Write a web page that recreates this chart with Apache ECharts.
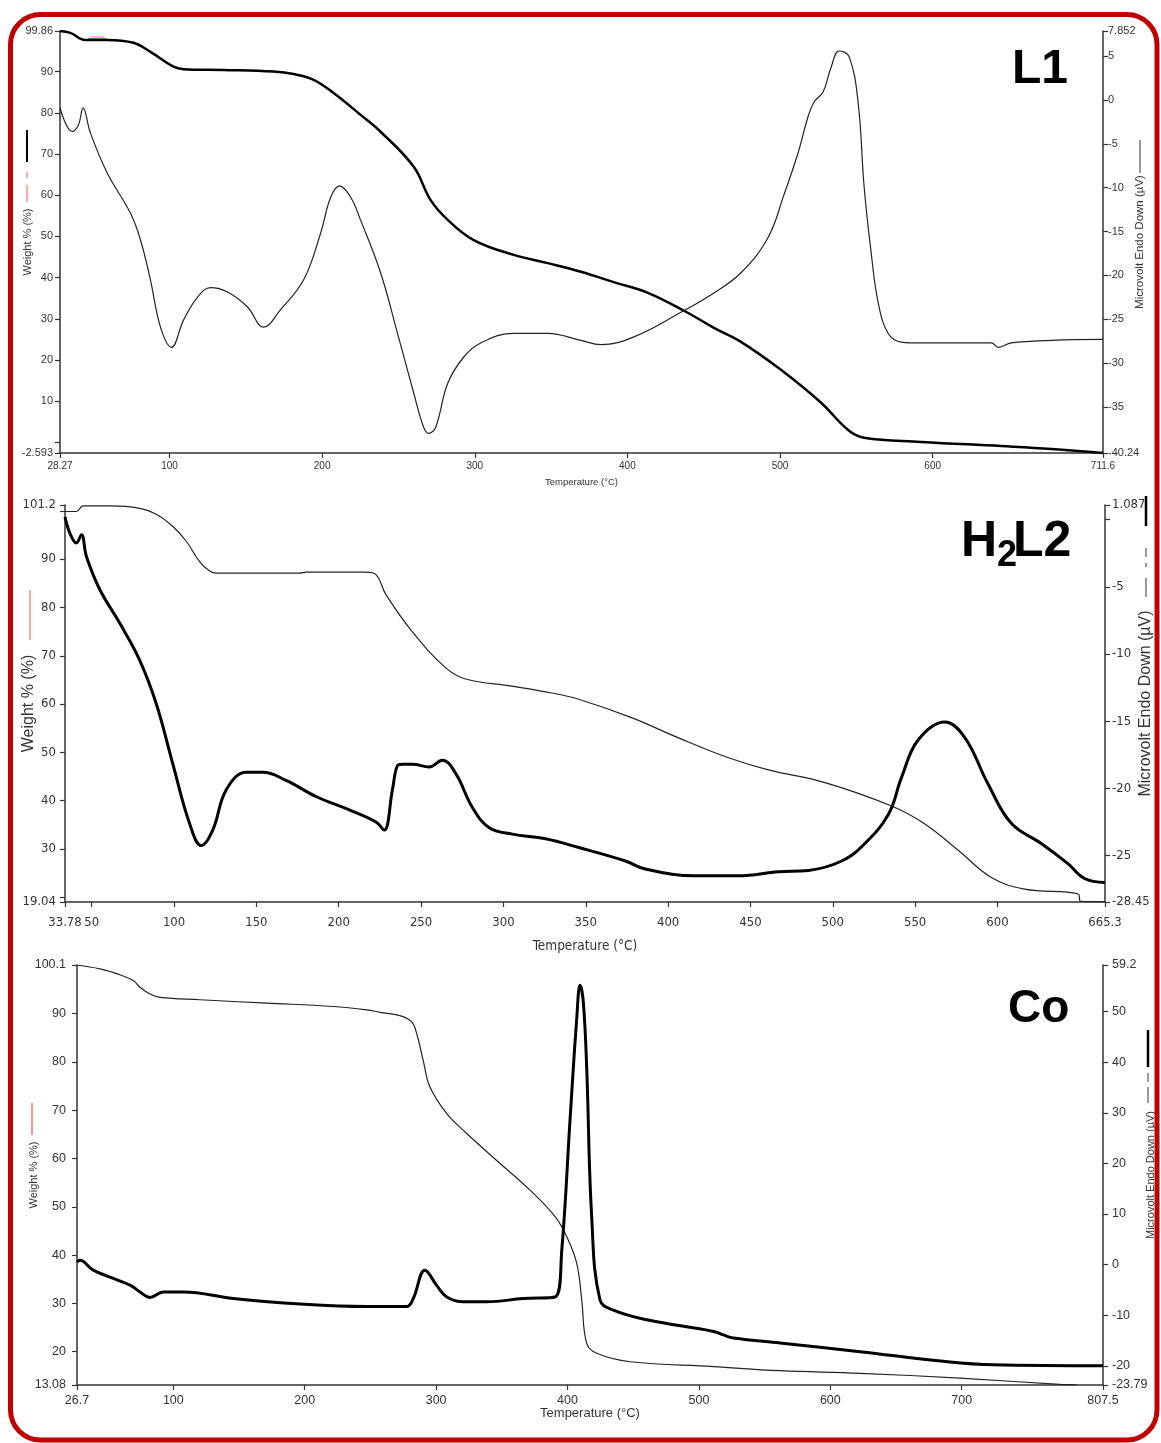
<!DOCTYPE html>
<html>
<head>
<meta charset="utf-8">
<title>TGA / DTA curves</title>
<script src="https://cdn.jsdelivr.net/npm/echarts@6/dist/echarts.min.js"></script>
<style>
html, body { margin: 0; padding: 0; background: #fff; }
#chart { width: 1161px; height: 1443px; }
</style>
</head>
<body>
<div id="chart"></div>
<script>
// L1 : thick = weight %, thin = microvolt
var l1TgaTemp = [28.27, 35.1, 44.9, 59.2, 76.4, 87.5, 102.6, 109.2, 135.4, 168.2, 181.3, 194.4, 207.5, 225.2, 238.3, 260, 271.1, 282.3, 299.3, 325.5, 347.8, 369.5, 391.1, 413.4, 438.3, 456.7, 474.4, 500.6, 526.9, 544.6, 555.1, 592.5, 645, 677.8, 711.6];
var l1TgaWeight = [99.86, 99.4, 97.7, 97.7, 97.0, 94.8, 91.2, 90.6, 90.4, 90.0, 89.4, 88.0, 84.8, 79.5, 75.4, 66.9, 58.8, 54.0, 49.1, 45.5, 43.5, 41.4, 38.9, 36.3, 31.7, 27.8, 24.4, 17.6, 9.6, 3.0, 1.1, 0.1, -0.9, -1.6, -2.59];
var l1DtaTemp = [28.27, 36.2, 40.3, 43.4, 48.2, 59.2, 74.4, 81, 87.5, 94.1, 101.3, 109.2, 118.3, 126.9, 138, 151.1, 161.6, 172.8, 187.9, 199, 205.6, 211.5, 218.7, 225.2, 238.3, 249.4, 260, 266.5, 269.8, 274.4, 282.3, 292.8, 303.9, 325.5, 347.8, 369.5, 382.6, 404.3, 435.1, 456.7, 474.4, 492.1, 502.6, 511.8, 518.3, 522.3, 528.2, 533.5, 538.7, 545.3, 551.2, 555.1, 559.7, 564.3, 570.8, 579.3, 592.5, 638.4, 643, 651.5, 677.8, 711.6];
var l1DtaUv = [-0.92, -3.6, -2.86, -0.92, -3.77, -8.33, -12.9, -15.97, -20.5, -25.9, -28.2, -25.1, -22.5, -21.4, -21.9, -23.6, -25.9, -23.9, -20.5, -15.2, -11.1, -9.8, -11.1, -13.7, -19.7, -26.6, -33.4, -37.3, -38.0, -37.3, -32.3, -29.3, -27.7, -26.6, -26.6, -27.4, -27.9, -27.0, -24.2, -22.0, -19.7, -15.7, -10.8, -6.05, -1.95, -0.24, 0.9, 3.75, 5.57, 4.9, -0.35, -9.9, -17.4, -23.1, -26.6, -27.6, -27.7, -27.7, -28.2, -27.7, -27.4, -27.3];

// H2L2 : thin = weight %, thick = microvolt
var h2TgaTemp = [33.78, 40.7, 44.75, 60.9, 79.2, 89.2, 99.3, 107.4, 115.5, 121.4, 125.6, 176.1, 180.1, 216.5, 222.6, 228.6, 244.6, 265, 277.1, 305.2, 329.3, 345.7, 377.8, 406.4, 436.7, 460.9, 495.3, 535.7, 555.9, 576.5, 596.3, 616.5, 649, 650.5, 665.3];
var h2TgaWeight = [99.85, 99.85, 101.0, 101.0, 100.5, 99.3, 96.75, 93.7, 89.5, 87.6, 87.1, 87.1, 87.3, 87.3, 86.8, 82.7, 75.0, 67.5, 65.2, 63.7, 62.3, 61.0, 57.2, 53.0, 48.9, 46.4, 43.75, 38.9, 35.2, 29.65, 24.1, 21.7, 20.7, 19.2, 19.1];
var h2DtaTemp = [33.78, 36.7, 40.7, 43.8, 46.8, 54.9, 67.0, 79.1, 89.2, 99.3, 109.4, 116.5, 123.5, 131.7, 143.8, 153.8, 168, 186.2, 206.4, 222.6, 227.6, 232.6, 235.7, 238.7, 244.8, 254.9, 262.9, 271.1, 281.1, 291.2, 305.4, 325.6, 345.8, 374.1, 386.2, 416.5, 442.8, 467, 485.2, 505.4, 519.5, 533.9, 541.7, 551.8, 568, 580.1, 594.2, 608.4, 626.6, 642.8, 652.9, 665.3];
var h2DtaUv = [0.2, -1.0, -1.74, -1.12, -2.74, -5.2, -7.7, -10.45, -13.7, -18.2, -22.6, -24.25, -23.1, -20.1, -18.8, -18.8, -19.4, -20.6, -21.6, -22.5, -23.1, -20.1, -18.3, -18.2, -18.2, -18.4, -17.9, -18.9, -21.4, -22.9, -23.4, -23.75, -24.4, -25.4, -26.0, -26.5, -26.5, -26.2, -26.1, -25.4, -24.1, -21.9, -19.2, -16.4, -15.05, -16.2, -19.65, -22.6, -24.1, -25.6, -26.7, -27.0];

// Co : thin = weight %, thick = microvolt
var coTgaTemp = [26.7, 44.2, 56.9, 69.5, 74.6, 82.3, 89.9, 120.3, 171.1, 221.8, 247.2, 257.3, 272.5, 281.4, 285.2, 290.2, 295.3, 308.1, 323.3, 346.1, 371.7, 390.7, 399.4, 407, 410.8, 414.6, 422.2, 447.6, 511, 561.7, 622.6, 698.7, 774.8, 787.5];
var coTgaWeight = [100.1, 99.3, 98.3, 96.9, 95.5, 94.1, 93.4, 92.9, 92.2, 91.5, 90.8, 90.3, 89.6, 88.3, 85.9, 80.3, 74.8, 69.3, 65.2, 59.6, 53.4, 47.9, 43.8, 38.3, 30.7, 21.7, 19.65, 17.9, 16.9, 16.05, 15.5, 14.5, 13.2, 13.1];
var coDtaTemp = [26.7, 29, 39.1, 67, 74.6, 82.3, 92.4, 107.6, 145.7, 196.4, 247.2, 277.6, 282.6, 291.5, 300.4, 308.1, 320.7, 338.5, 366.4, 390.5, 395.6, 402, 407, 409.5, 412, 414.6, 418.4, 424.7, 434.9, 460.3, 511.2, 518.6, 526.2, 561.7, 622.6, 686, 724, 807.5];
var coDtaUv = [0.5, 0.85, -1.1, -4.07, -5.4, -6.5, -5.4, -5.4, -6.7, -7.8, -8.3, -8.3, -6.7, -1.1, -4.1, -6.4, -7.35, -7.35, -6.7, -6.4, 2.8, 29.0, 48.6, 55.2, 51.9, 38.8, 9.35, -7.0, -9.0, -10.9, -13.2, -13.9, -14.5, -15.5, -17.2, -19.1, -19.8, -20.0];

// tick / label values
var l1XLabels = [28.27, 100, 200, 300, 400, 500, 600, 711.6];
var l1WLabels = [-2.593, 10, 20, 30, 40, 50, 60, 70, 80, 90, 99.86];
var l1WTicks = [-2.593, 0, 10, 20, 30, 40, 50, 60, 70, 80, 90, 99.86];
var l1ULabels = [-40.24, -35, -30, -25, -20, -15, -10, -5, 0, 5, 7.852];
var h2XLabels = [33.78, 50, 100, 150, 200, 250, 300, 350, 400, 450, 500, 550, 600, 665.3];
var h2WLabels = [19.04, 30, 40, 50, 60, 70, 80, 90, 101.2];
var h2WTicks = [19.04, 20, 30, 40, 50, 60, 70, 80, 90, 100, 101.2];
var h2ULabels = [-28.45, -25, -20, -15, -10, -5, 1.087];
var h2UTicks = [-28.45, -25, -20, -15, -10, -5, 0, 1.087];
var coXLabels = [26.7, 100, 200, 300, 400, 500, 600, 700, 807.5];
var coWLabels = [13.08, 20, 30, 40, 50, 60, 70, 80, 90, 100.1];
var coULabels = [-23.79, -20, -10, 0, 10, 20, 30, 40, 50, 59.2];

function pairs(xs, ys) {
    return xs.map(function (x, i) { return [x, ys[i]]; });
}

var SANS = 'Liberation Sans, Arial, sans-serif';
var NARROW = 'Liberation Sans Narrow, DejaVu Sans Condensed, sans-serif';

function axis(o) {
    return {
        type: 'value',
        gridIndex: o.grid,
        position: o.position,
        min: o.min,
        max: o.max,
        name: o.name,
        nameLocation: 'middle',
        nameGap: o.nameGap,
        nameRotate: o.nameRotate,
        nameMoveOverlap: false,
        nameTextStyle: { color: '#333', fontFamily: o.nameFont || o.font, fontSize: o.nameSize },
        axisLine: { show: true, onZero: false, lineStyle: { color: '#333', width: 1.5 } },
        axisTick: { show: true, length: 5, customValues: o.ticks || o.labels, lineStyle: { color: '#333', width: 1.2 } },
        axisLabel: {
            show: true, customValues: o.labels, margin: o.margin || 4, color: '#333',
            fontFamily: o.font, fontSize: o.size,
            formatter: function (v) { return String(v); }
        },
        splitLine: { show: false }
    };
}

function line(xi, yi, data, width, color) {
    return {
        type: 'line', xAxisIndex: xi, yAxisIndex: yi, data: data,
        showSymbol: false, smooth: 0.4,
        lineStyle: { color: color || '#000', width: width },
        silent: true
    };
}

function vline(x, y1, y2, color, w) {
    return { type: 'line', shape: { x1: x, y1: y1, x2: x, y2: y2 }, style: { stroke: color, lineWidth: w } };
}

var chart = echarts.init(document.getElementById('chart'));

chart.setOption({
    animation: false,
    backgroundColor: '#fff',
    grid: [
        { left: 60, top: 31, width: 1043, height: 422, outerBoundsMode: 'none' },
        { left: 65, top: 505, width: 1040, height: 397, outerBoundsMode: 'none' },
        { left: 77, top: 965, width: 1026, height: 420, outerBoundsMode: 'none' }
    ],
    xAxis: [
        axis({ grid: 0, position: 'bottom', min: 28.27, max: 711.6, labels: l1XLabels, font: SANS, size: 10,
               name: 'Temperature (°C)', nameGap: 24, nameSize: 9.5, margin: 8 }),
        axis({ grid: 1, position: 'bottom', min: 33.78, max: 665.3, labels: h2XLabels, font: NARROW, size: 13,
               name: 'Temperature (°C)', nameGap: 37, nameSize: 13.5, margin: 14 }),
        axis({ grid: 2, position: 'bottom', min: 26.7, max: 807.5, labels: coXLabels, font: SANS, size: 12.5,
               name: 'Temperature (°C)', nameGap: 22, nameSize: 13, margin: 9 })
    ],
    yAxis: [
        axis({ grid: 0, position: 'left', min: -2.593, max: 99.86, labels: l1WLabels, ticks: l1WTicks, font: SANS, size: 11,
               name: 'Weight % (%)', nameGap: 27, nameRotate: 90, nameSize: 11, margin: 7 }),
        axis({ grid: 0, position: 'right', min: -40.24, max: 7.852, labels: l1ULabels, font: SANS, size: 11,
               name: 'Microvolt Endo Down (µV)', nameGap: 31, nameRotate: 90, nameSize: 11.5, margin: 5 }),
        axis({ grid: 1, position: 'left', min: 19.04, max: 101.2, labels: h2WLabels, ticks: h2WTicks, font: NARROW, size: 13,
               name: 'Weight % (%)', nameGap: 28, nameRotate: 90, nameFont: SANS, nameSize: 16, margin: 9 }),
        axis({ grid: 1, position: 'right', min: -28.45, max: 1.087, labels: h2ULabels, ticks: h2UTicks, font: NARROW, size: 13,
               name: 'Microvolt Endo Down (µV)', nameGap: 33, nameRotate: 90, nameFont: SANS, nameSize: 16, margin: 7 }),
        axis({ grid: 2, position: 'left', min: 13.08, max: 100.1, labels: coWLabels, font: SANS, size: 12.5,
               name: 'Weight % (%)', nameGap: 38, nameRotate: 90, nameSize: 11, margin: 11 }),
        axis({ grid: 2, position: 'right', min: -23.79, max: 59.2, labels: coULabels, font: SANS, size: 12.5,
               name: 'Microvolt Endo Down (µV)', nameGap: 42, nameRotate: 90, nameSize: 11, margin: 9 })
    ],
    series: [
        line(0, 0, pairs(l1TgaTemp, l1TgaWeight), 2.5),
        line(0, 1, pairs(l1DtaTemp, l1DtaUv), 1.2, '#222'),
        line(1, 2, pairs(h2TgaTemp, h2TgaWeight), 1.2, '#222'),
        line(1, 3, pairs(h2DtaTemp, h2DtaUv), 3),
        line(2, 4, pairs(coTgaTemp, coTgaWeight), 1.2, '#222'),
        line(2, 5, pairs(coDtaTemp, coDtaUv), 3)
    ],
    graphic: [
        // red rounded frame
        { type: 'rect', shape: { x: 10.5, y: 14.5, width: 1146.5, height: 1425.5, r: 30 },
          style: { fill: null, stroke: '#c00000', lineWidth: 5 }, z: 100 },
        // small legend marks beside the axis names
        vline(27, 130, 162, '#000', 2),
        vline(27, 172, 178, '#ff8a8a', 1.5),
        vline(27, 185, 202, '#ff8a8a', 1.5),
        vline(1140, 140, 173, '#333', 1),
        { type: 'line', shape: { x1: 88, y1: 39, x2: 106, y2: 39 }, style: { stroke: '#3a8a3a', lineWidth: 1.5 } },
        { type: 'line', shape: { x1: 90, y1: 37, x2: 104, y2: 37 }, style: { stroke: '#f0a0f0', lineWidth: 1.5 } },
        vline(30, 590, 640, '#ff8a8a', 1.5),
        vline(1146, 496, 526, '#000', 2.5),
        vline(1146, 548, 557, '#333', 1),
        vline(1146, 563, 567, '#333', 1),
        vline(1146, 578, 597, '#333', 1),
        vline(32, 1103, 1135, '#ff5050', 1.2),
        vline(1148, 1030, 1067, '#000', 2.5),
        vline(1148, 1073, 1082, '#333', 1),
        vline(1148, 1087, 1103, '#333', 1),
        // panel titles
        { type: 'text', x: 1012, y: 70, style: { text: 'L1', font: 'bold 48px ' + SANS, fill: '#000', verticalAlign: 'middle' } },
        { type: 'text', x: 961, y: 542, style: { text: 'H', font: 'bold 50px ' + SANS, fill: '#000', verticalAlign: 'middle' } },
        { type: 'text', x: 997, y: 556, style: { text: '2', font: 'bold 36px ' + SANS, fill: '#000', verticalAlign: 'middle' } },
        { type: 'text', x: 1013, y: 542, style: { text: 'L2', font: 'bold 50px ' + SANS, fill: '#000', verticalAlign: 'middle' } },
        { type: 'text', x: 1008, y: 1009, style: { text: 'Co', font: 'bold 46px ' + SANS, fill: '#000', verticalAlign: 'middle' } }
    ]
});
</script>
</body>
</html>
